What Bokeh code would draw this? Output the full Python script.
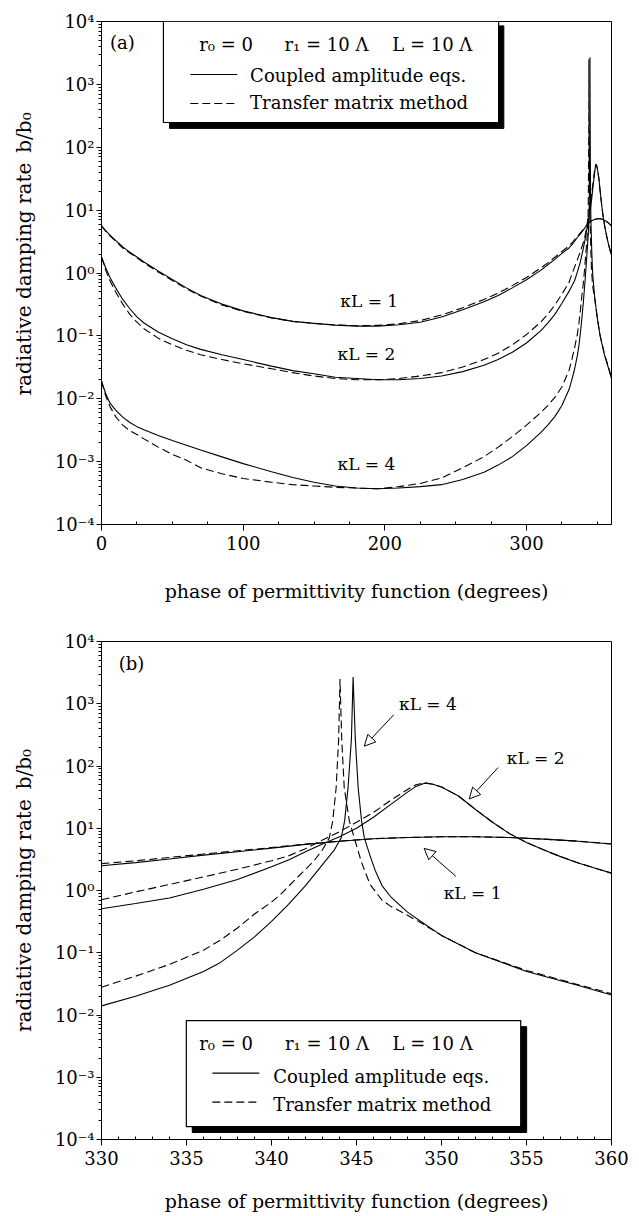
import numpy as np
from bokeh.plotting import figure
from bokeh.layouts import column
from bokeh.models import (FixedTicker, CustomJSTickFormatter, Range1d, Arrow,
                          NormalHead, Label)
from bokeh.embed import file_html
from bokeh.resources import INLINE

# ---------------- data ----------------
# panel (a): 0..325 deg part, continued by the 330..360 arrays of panel (b)
phase_a = [0, 3, 6, 10, 15, 20, 25, 30, 40, 50, 60, 70, 85, 100, 120, 135, 150,
           165, 180, 195, 210, 225, 240, 255, 270, 280, 290, 300, 310, 315, 320, 325]
k1_cae_a = [5.6, 4.7, 4.0, 3.3, 2.6, 2.15, 1.8, 1.5, 1.08, 0.79, 0.58, 0.44, 0.32, 0.25,
            0.195, 0.17, 0.158, 0.148, 0.143, 0.143, 0.15, 0.165, 0.2, 0.26, 0.35, 0.44,
            0.58, 0.78, 1.1, 1.35, 1.65, 2.05]
k1_tmm_a = [5.6, 4.6, 3.9, 3.2, 2.5, 2.08, 1.74, 1.45, 1.04, 0.76, 0.56, 0.43, 0.31, 0.245,
            0.193, 0.17, 0.158, 0.149, 0.145, 0.147, 0.156, 0.175, 0.215, 0.28, 0.38, 0.48,
            0.63, 0.85, 1.2, 1.45, 1.78, 2.2]
k2_cae_a = [1.8, 1.2, 0.85, 0.58, 0.38, 0.27, 0.2, 0.16, 0.115, 0.09, 0.072, 0.061, 0.05,
            0.042, 0.033, 0.028, 0.025, 0.022, 0.021, 0.020, 0.020, 0.021, 0.023, 0.027,
            0.034, 0.042, 0.055, 0.077, 0.12, 0.16, 0.22, 0.33]
k2_tmm_a = [1.8, 1.1, 0.75, 0.5, 0.32, 0.22, 0.165, 0.13, 0.092, 0.072, 0.059, 0.05, 0.042,
            0.036, 0.03, 0.026, 0.023, 0.021, 0.020, 0.020, 0.021, 0.023, 0.026, 0.032,
            0.042, 0.053, 0.072, 0.105, 0.165, 0.22, 0.31, 0.46]
k4_cae_a = [0.019, 0.012, 0.0085, 0.0066, 0.0051, 0.0042, 0.0036, 0.0032, 0.0026, 0.00216,
            0.00182, 0.00153, 0.00119, 0.00093, 0.00069, 0.00056, 0.00047, 0.00041, 0.00038,
            0.00037, 0.00038, 0.0004, 0.00043, 0.00052, 0.00068, 0.00088, 0.0012, 0.0018,
            0.0029, 0.0038, 0.0052, 0.0078]
k4_tmm_a = [0.019, 0.011, 0.0075, 0.0052, 0.0038, 0.0031, 0.0027, 0.0023, 0.0017, 0.0013,
            0.00105, 0.0008, 0.00064, 0.00054, 0.00047, 0.00043, 0.00041, 0.00039, 0.00038,
            0.00037, 0.0004, 0.00045, 0.00055, 0.0008, 0.0012, 0.0017, 0.0025, 0.0038,
            0.006, 0.0078, 0.0105, 0.0155]

# panel (b): 330..360 deg
phase_k1 = [330, 332, 334, 336, 338, 340, 342, 344, 346, 348, 350, 352, 354, 356, 358, 360]
k1_cae = [2.5, 2.8, 3.2, 3.7, 4.2, 4.8, 5.5, 6.2, 6.8, 7.1, 7.3, 7.3, 7.1, 6.7, 6.2, 5.6]
k1_tmm = [2.7, 3.0, 3.4, 3.85, 4.35, 4.9, 5.55, 6.2, 6.8, 7.1, 7.3, 7.3, 7.1, 6.7, 6.2, 5.6]

phase_k2 = [330, 332, 334, 336, 338, 340, 341, 342, 343, 344, 345, 346, 347, 348, 348.5,
            349, 349.5, 350, 351, 352, 353, 354, 355, 356, 357, 358, 359, 360]
k2_cae = [0.51, 0.62, 0.76, 1.05, 1.5, 2.4, 3.1, 4.2, 5.6, 7.3, 10, 15, 24, 38, 47,
          53, 51, 46, 33, 20, 12.5, 8.2, 5.9, 4.5, 3.5, 2.8, 2.3, 1.9]
k2_tmm = [0.71, 0.95, 1.25, 1.65, 2.2, 3.0, 3.6, 4.7, 6.5, 8.8, 12.5, 18, 28, 42, 50,
          54, 51, 46, 33, 20, 12.5, 8.2, 5.9, 4.5, 3.5, 2.8, 2.3, 1.9]

phase_k4_cae = [330, 332, 334, 336, 337, 338, 339, 340, 341, 342, 343, 343.7, 344.1, 344.3,
                344.5, 344.7, 344.8, 344.93, 345.1, 345.3, 345.46, 345.8, 346.1, 346.5, 347,
                348, 349, 350, 352, 355, 358, 360]
k4_cae = [0.014, 0.02, 0.03, 0.05, 0.07, 0.11, 0.18, 0.32, 0.6, 1.2, 2.6, 4.5, 7, 13,
          44, 270, 2700, 270, 44, 13, 7, 3.6, 2.1, 1.2, 0.8,
          0.45, 0.29, 0.19, 0.1, 0.05, 0.03, 0.021]
phase_k4_tmm = [330, 332, 334, 336, 337, 338, 339, 340, 340.5, 341.5, 342.5, 343.0, 343.4,
                343.6, 343.8, 343.95, 344.03, 344.13, 344.28, 344.58, 344.87, 345.3, 345.8,
                346.5, 347, 348, 349, 350, 352, 355, 358, 360]
k4_tmm = [0.028, 0.042, 0.065, 0.11, 0.16, 0.25, 0.42, 0.65, 0.85, 1.6, 3.0, 4.5, 7,
          13, 44, 270, 2500, 270, 44, 13, 7, 2.8, 1.25,
          0.7, 0.56, 0.4, 0.28, 0.19, 0.1, 0.052, 0.031, 0.022]

x_ticks_a = [0, 100, 200, 300]
x_ticks_b = [330, 335, 340, 345, 350, 355, 360]
y_exponents = [-4, -3, -2, -1, 0, 1, 2, 3, 4]

legend_head = ["r\u2080 = 0", "r\u2081 = 10 \u039b", "L = 10 \u039b"]
legend_items = ["Coupled amplitude eqs.", "Transfer matrix method"]
curve_labels = ["\u03baL = 1", "\u03baL = 2", "\u03baL = 4"]

FONT = "DejaVu Serif"
X_TITLE = "phase of permittivity function (degrees)"
Y_TITLE = "radiative damping rate\u2002b/b\u2080"

SUP_JS = """
const sup = {"-":"\u207b","0":"\u2070","1":"\u00b9","2":"\u00b2","3":"\u00b3",
             "4":"\u2074","5":"\u2075","6":"\u2076","7":"\u2077","8":"\u2078","9":"\u2079"};
const e = Math.round(Math.log10(tick));
return "10" + String(e).split("").map(c => sup[c]).join("");
"""


def make_fig(height, xr, xmaj, xmin, ml, mr, mt, mb, title_standoff, ytitle):
    p = figure(width=630, height=height, y_axis_type="log",
               x_range=Range1d(*xr), y_range=Range1d(1e-4, 1e4),
               output_backend="svg", toolbar_location=None,
               min_border_left=ml, min_border_right=mr,
               min_border_top=mt, min_border_bottom=mb)
    p.grid.visible = False
    p.outline_line_color = "black"
    p.outline_line_width = 1
    p.background_fill_color = "white"
    p.border_fill_color = "white"

    p.yaxis.ticker = FixedTicker(
        ticks=[10.0 ** k for k in y_exponents],
        minor_ticks=[m * 10.0 ** k for k in y_exponents[:-1] for m in range(2, 10)])
    p.yaxis.formatter = CustomJSTickFormatter(code=SUP_JS)
    p.xaxis.ticker = FixedTicker(ticks=xmaj, minor_ticks=xmin)

    for ax in (p.xaxis[0], p.yaxis[0]):
        ax.axis_line_color = "black"
        ax.major_tick_line_color = "black"
        ax.minor_tick_line_color = "black"
        ax.major_label_text_font = FONT
        ax.major_label_text_font_size = "18px"
        ax.major_label_text_color = "black"
        ax.axis_label_text_font = FONT
        ax.axis_label_text_font_style = "normal"
        ax.axis_label_text_color = "black"
    p.xaxis.axis_label_text_font_size = "19px"
    p.yaxis.axis_label_text_font_size = "20px"
    p.yaxis.major_tick_out = 5
    p.yaxis.major_tick_in = 0
    p.yaxis.minor_tick_out = 3
    p.yaxis.minor_tick_in = 0
    p.yaxis.major_label_standoff = 2
    p.yaxis.axis_label_standoff = 16
    p.xaxis.major_tick_out = 6
    p.xaxis.major_tick_in = 0
    p.xaxis.minor_tick_out = 0
    p.xaxis.minor_tick_in = 3
    p.xaxis.major_label_standoff = 5
    p.xaxis.axis_label_standoff = title_standoff
    p.xaxis.axis_label = X_TITLE
    p.yaxis.axis_label = ytitle
    return p


def curves(p, series):
    for xs, ys, dashed in series:
        p.line(xs, ys, line_color="black", line_width=1.1,
               line_dash="8 4" if dashed else "solid")


def legend(p, box, shadow, head_xy, sample_x, rows_y, text_x):
    sl, sr, st, sb = shadow
    p.quad(left=[sl], right=[sr], top=[st], bottom=[sb],
           fill_color="black", line_color="black")
    l, r, t, b = box
    p.quad(left=[l], right=[r], top=[t], bottom=[b],
           fill_color="white", line_color="black", line_width=1.2)
    for txt, (hx, hy) in zip(legend_head, head_xy):
        p.add_layout(Label(x=hx, y=hy, text=txt, text_font=FONT, text_font_size="18px",
                           text_align="center", text_baseline="middle",
                           text_color="black"))
    for i, (txt, (ly, ty)) in enumerate(zip(legend_items, rows_y)):
        p.line(sample_x, [ly, ly], line_color="black", line_width=1.1,
               line_dash="solid" if i == 0 else "8 4")
        p.add_layout(Label(x=text_x, y=ty, text=txt, text_font=FONT, text_font_size="18px",
                           text_align="left", text_baseline="middle", text_color="black"))


def tag(p, x, y, txt, size="17px"):
    p.add_layout(Label(x=x, y=y, text=txt, text_font=FONT, text_font_size=size,
                       text_align="center", text_baseline="middle", text_color="black"))


# ---------------- panel (a) ----------------
p1 = make_fig(616, (0, 360), x_ticks_a,
              [v for v in range(25, 360, 25) if v % 100 != 0],
              101, 17, 21, 92, 27, "\u00a0" * 6 + Y_TITLE)
curves(p1, [
    (phase_a + phase_k1, k1_cae_a + k1_cae, False),
    (phase_a + phase_k1, k1_tmm_a + k1_tmm, True),
    (phase_a + phase_k2, k2_cae_a + k2_cae, False),
    (phase_a + phase_k2, k2_tmm_a + k2_tmm, True),
    (phase_a + phase_k4_cae, k4_cae_a + k4_cae, False),
    (phase_a + phase_k4_tmm, k4_tmm_a + k4_tmm, True),
])
legend(p1,
       box=(43.7, 280.3, 1e4, 10 ** 2.394),
       shadow=(48.0, 284.0, 10 ** 3.93, 10 ** 2.30),
       head_xy=[(88.0, 10 ** 3.634), (158.8, 10 ** 3.634), (233.5, 10 ** 3.634)],
       sample_x=[62.7, 95.8],
       rows_y=[(10 ** 3.157, 10 ** 3.14), (10 ** 2.696, 10 ** 2.712)],
       text_x=104.9)
tag(p1, 14.8, 10 ** 3.666, "(a)", "18px")
tag(p1, 189.0, 10 ** -0.45, curve_labels[0])
tag(p1, 187.0, 10 ** -1.29, curve_labels[1])
tag(p1, 187.0, 10 ** -3.04, curve_labels[2])

# ---------------- panel (b) ----------------
p2 = make_fig(598, (330, 360), x_ticks_b,
              [v for v in range(331, 360) if v % 5 != 0],
              100, 19, 25, 70, 22, Y_TITLE)
curves(p2, [
    (phase_k1, k1_cae, False),
    (phase_k1, k1_tmm, True),
    (phase_k2, k2_cae, False),
    (phase_k2, k2_tmm, True),
    (phase_k4_cae, k4_cae, False),
    (phase_k4_tmm, k4_tmm, True),
])
legend(p2,
       box=(334.99, 354.66, 10 ** -2.09, 10 ** -3.793),
       shadow=(335.34, 355.01, 10 ** -2.187, 10 ** -3.888),
       head_xy=[(337.33, 10 ** -2.457), (343.26, 10 ** -2.457), (349.48, 10 ** -2.457)],
       sample_x=[336.52, 339.28],
       rows_y=[(10 ** -2.934, 10 ** -2.98), (10 ** -3.40, 10 ** -3.43)],
       text_x=340.1)
tag(p2, 331.76, 10 ** 3.65, "(b)", "18px")
tag(p2, 349.2, 10 ** 3.0, curve_labels[2])
tag(p2, 355.54, 10 ** 2.123, curve_labels[1])
tag(p2, 351.83, 10 ** -0.04, curve_labels[0])
for xs, ys, xe, ye in [(347.19, 10 ** 2.823, 345.46, 10 ** 2.319),
                       (353.33, 10 ** 1.975, 351.63, 10 ** 1.471),
                       (350.85, 10 ** 0.226, 348.98, 10 ** 0.676)]:
    p2.add_layout(Arrow(end=NormalHead(size=11, fill_color="white", line_color="black",
                                       line_width=1),
                        x_start=xs, y_start=ys, x_end=xe, y_end=ye,
                        line_color="black", line_width=1))

layout = column(p1, p2)
open("out.html", "w").write(file_html(layout, INLINE))
